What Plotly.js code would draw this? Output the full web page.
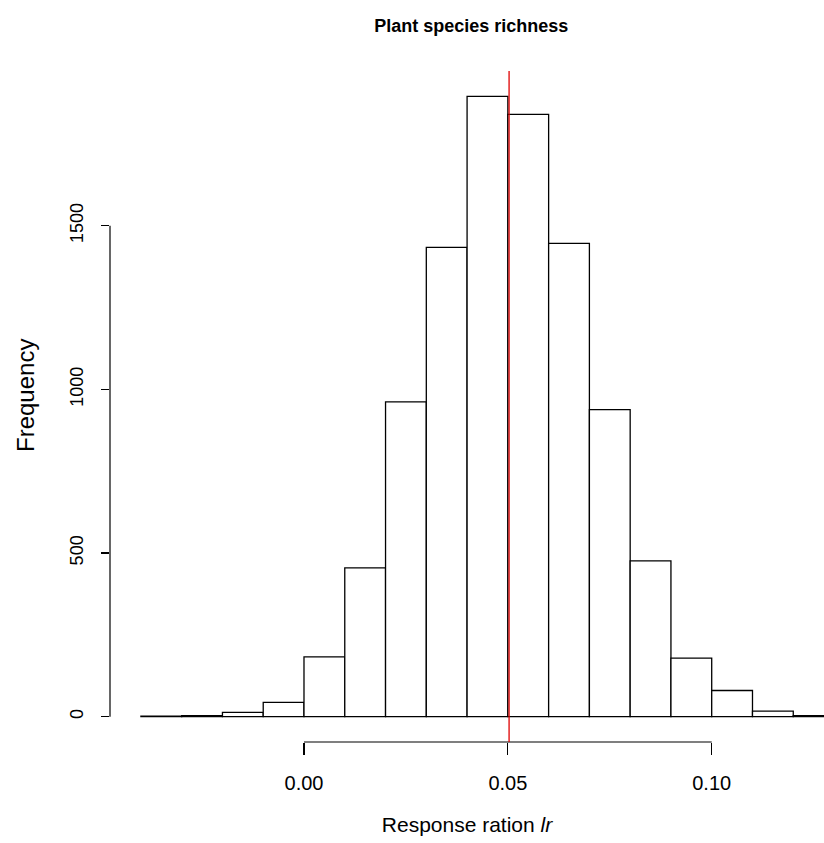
<!DOCTYPE html>
<html>
<head>
<meta charset="utf-8">
<script src="https://cdn.plot.ly/plotly-3.0.1.min.js"></script>
<style>html,body{margin:0;padding:0;background:#fff;}#chart{width:824px;height:843px;}</style>
</head>
<body>
<div id="chart"></div>
<script>
// Bin edges (lower bounds) of the histogram
const binStarts = [-0.04, -0.03, -0.02, -0.01, 0.00, 0.01, 0.02, 0.03, 0.04, 0.05, 0.06, 0.07, 0.08, 0.09, 0.10, 0.11, 0.12];
const binWidth = 0.01;
// Frequencies per bin
const counts = [2, 3, 13, 44, 183, 455, 962, 1434, 1895, 1840, 1446, 938, 476, 179, 80, 17, 3];
// Vertical reference line (observed value)
const refValue = 0.0503;
const xTicks = [0.00, 0.05, 0.10];
const xTickLabels = ['0.00', '0.05', '0.10'];
const yTicks = [0, 500, 1000, 1500];
const yTickLabels = ['0', '500', '1000', '1500'];

const centers = binStarts.map(b => b + binWidth / 2);
const font = 'Liberation Sans, Arial, sans-serif';

const trace = {
  type: 'bar',
  x: centers,
  y: counts,
  width: binWidth,
  marker: {color: '#ffffff', line: {color: '#000000', width: 1.3}},
  hoverinfo: 'x+y'
};

const layout = {
  width: 824, height: 843,
  margin: {l: 110, r: 0, t: 71, b: 101, pad: 0},
  paper_bgcolor: '#ffffff', plot_bgcolor: '#ffffff',
  showlegend: false,
  font: {family: font, color: '#000000', size: 18},
  title: {
    text: '<b>Plant species richness</b>',
    font: {family: font, size: 18, color: '#000'},
    xref: 'paper', x: 0.506, xanchor: 'center',
    yref: 'container', y: 1 - 26 / 843, yanchor: 'middle'
  },
  xaxis: {
    range: [-0.04758, 0.12754],
    tickmode: 'array', tickvals: xTicks, ticktext: xTickLabels,
    ticks: 'outside', ticklen: 12, tickwidth: 1.2, tickcolor: '#000',
    ticklabelstandoff: 11,
    tickfont: {family: font, size: 20},
    showgrid: false, zeroline: false, showline: false,
    title: {text: 'Response ration <i>lr</i>', font: {family: font, size: 21}, standoff: 24},
    automargin: false, fixedrange: true
  },
  yaxis: {
    range: [-77.3, 1972.8],
    tickmode: 'array', tickvals: yTicks, ticktext: yTickLabels,
    ticks: 'outside', ticklen: 8, tickwidth: 1.2, tickcolor: '#000',
    tickangle: -90,
    ticklabelstandoff: 11,
    tickfont: {family: font, size: 18},
    showgrid: false, zeroline: false, showline: false,
    title: {text: ''},
    automargin: false, fixedrange: true
  },
  annotations: [
    {text: 'Frequency', textangle: -90, showarrow: false,
     xref: 'paper', yref: 'paper',
     x: (25 - 110) / 714, y: (742 - 396) / 671, xanchor: 'center', yanchor: 'middle',
     font: {family: font, size: 24, color: '#000'}}
  ],
  shapes: [
    {type: 'line', xref: 'x', yref: 'paper', x0: xTicks[0], x1: xTicks[xTicks.length - 1], y0: 0, y1: 0,
     line: {color: '#000', width: 1.2}},
    {type: 'line', xref: 'paper', yref: 'y', x0: 0, x1: 0, y0: yTicks[0], y1: yTicks[yTicks.length - 1],
     line: {color: '#000', width: 1.2}},
    {type: 'line', xref: 'x', yref: 'paper', x0: refValue, x1: refValue, y0: 0, y1: 1,
     line: {color: '#e00000', width: 1.3}, layer: 'above'}
  ]
};

Plotly.newPlot('chart', [trace], layout, {displayModeBar: false, staticPlot: true});
</script>
</body>
</html>
